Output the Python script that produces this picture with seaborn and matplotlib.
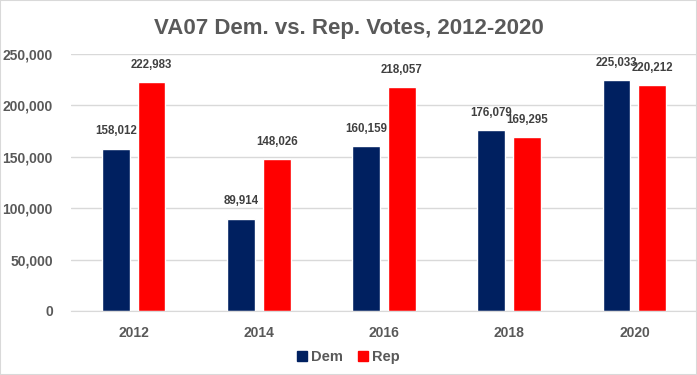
import numpy as np
import pandas as pd
import matplotlib
matplotlib.use("Agg")
import matplotlib.pyplot as plt
import seaborn as sns
from matplotlib.patches import Rectangle

# chart values
years = ["2012", "2014", "2016", "2018", "2020"]
dem_votes = [158012, 89914, 160159, 176079, 225033]
rep_votes = [222983, 148026, 218057, 169295, 220212]
parties = ["Dem", "Rep"]
palette = {"Dem": "#002060", "Rep": "#FF0000"}

df = pd.DataFrame({
    "year": years * 2,
    "votes": dem_votes + rep_votes,
    "party": ["Dem"] * len(years) + ["Rep"] * len(years),
})

sns.set_style("white")
plt.rcParams["font.family"] = ["Liberation Sans", "DejaVu Sans"]

fig = plt.figure(figsize=(6.97, 3.75), dpi=100)
ax = fig.add_axes([71 / 697, 64 / 375, 626 / 697, 257 / 375])

sns.barplot(data=df, x="year", y="votes", hue="party", hue_order=parties,
            palette=palette, width=0.57, gap=0.22, saturation=1,
            ax=ax, legend=False)

ax.set_ylim(0, 250000)
ax.set_yticks(np.arange(0, 250001, 50000))
ax.set_yticklabels([f"{v:,}" for v in range(0, 250001, 50000)])
ax.grid(axis="y", color="#D9D9D9", linewidth=1)
ax.set_axisbelow(True)
for s in ["top", "right", "left"]:
    ax.spines[s].set_visible(False)
ax.spines["bottom"].set_color("#D9D9D9")
ax.set_xlabel("")
ax.set_ylabel("")
ax.tick_params(axis="both", length=0, labelsize=10, labelcolor="#595959")
ax.tick_params(axis="y", pad=13)
ax.tick_params(axis="x", pad=11)
for lab in ax.get_xticklabels() + ax.get_yticklabels():
    lab.set_fontweight("bold")

for cont in ax.containers:
    ax.bar_label(cont, labels=[f"{int(v):,}" for v in cont.datavalues],
                 padding=8, fontsize=8.3, fontweight="bold", color="#404040")

fig.text(0.5, 0.925, "VA07 Dem. vs. Rep. Votes, 2012-2020", ha="center", va="center",
         fontsize=16, fontweight="bold", color="#595959")

handles = [Rectangle((0, 0), 1, 1, color=palette[p]) for p in parties]
fig.legend(handles, parties, loc="center", bbox_to_anchor=(0.5, 0.048), ncol=2,
           frameon=False, handlelength=0.7, handleheight=0.7, handletextpad=0.3,
           columnspacing=1.0, prop={"size": 10.5, "weight": "bold"}, labelcolor="#595959")

fig.patches.append(Rectangle((0, 0), 1, 1, transform=fig.transFigure, fill=False,
                             edgecolor="#D9D9D9", linewidth=1.5))

fig.savefig("out.png", dpi=100)
